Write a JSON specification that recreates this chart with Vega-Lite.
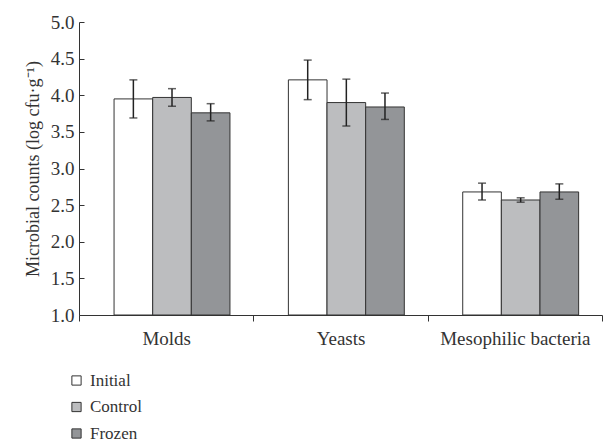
{
  "$schema": "https://vega.github.io/schema/vega-lite/v6.json",
  "width": 523,
  "height": 293,
  "autosize": {"type": "none"},
  "padding": {"left": 79, "top": 22, "right": 4, "bottom": 129},
  "background": "white",
  "config": {
    "view": {"stroke": null},
    "font": "Liberation Serif",
    "axis": {"grid": false, "domainColor": "#333", "tickColor": "#333", "labelColor": "#333", "titleColor": "#333", "labelFont": "Liberation Serif", "titleFont": "Liberation Serif", "labelFontSize": 19, "titleFontSize": 18, "titleFontWeight": "normal", "labelOverlap": false},
    "legend": {"labelFont": "Liberation Serif", "labelFontSize": 17, "labelColor": "#333"}
  },
  "data": {
    "values": [
      {"category": "Molds", "group": "Initial", "mean": 3.95, "lo": 3.69, "hi": 4.21},
      {"category": "Molds", "group": "Control", "mean": 3.97, "lo": 3.85, "hi": 4.09},
      {"category": "Molds", "group": "Frozen", "mean": 3.76, "lo": 3.65, "hi": 3.885},
      {"category": "Yeasts", "group": "Initial", "mean": 4.21, "lo": 3.94, "hi": 4.48},
      {"category": "Yeasts", "group": "Control", "mean": 3.9, "lo": 3.58, "hi": 4.22},
      {"category": "Yeasts", "group": "Frozen", "mean": 3.84, "lo": 3.67, "hi": 4.03},
      {"category": "Mesophilic bacteria", "group": "Initial", "mean": 2.68, "lo": 2.57, "hi": 2.8},
      {"category": "Mesophilic bacteria", "group": "Control", "mean": 2.57, "lo": 2.54, "hi": 2.6},
      {"category": "Mesophilic bacteria", "group": "Frozen", "mean": 2.68, "lo": 2.58, "hi": 2.79}
    ]
  },
  "encoding": {
    "x": {
      "field": "category", "type": "nominal", "sort": ["Molds", "Yeasts", "Mesophilic bacteria"],
      "scale": {"paddingInner": 0, "paddingOuter": 0},
      "axis": {"title": null, "labelAngle": 0, "tickBand": "extent", "tickSize": 6, "labelPadding": 8, "domainWidth": 1, "labelFont": "Liberation Serif", "labelFontSize": 19, "labelOverlap": false}
    },
    "xOffset": {
      "field": "group", "type": "nominal", "sort": ["Initial", "Control", "Frozen"],
      "scale": {"paddingInner": 0, "paddingOuter": 0.756, "align": 0.6}
    }
  },
  "layer": [
    {
      "mark": {"type": "bar", "stroke": "#333", "strokeWidth": 1},
      "encoding": {
        "y": {
          "field": "mean", "type": "quantitative",
          "scale": {"domain": [1, 5], "zero": false, "nice": false},
          "axis": {"title": "Microbial counts (log cfu·g⁻¹)", "values": [1, 1.5, 2, 2.5, 3, 3.5, 4, 4.5, 5], "format": ".1f", "tickSize": -5, "labelPadding": 10, "titlePadding": 8, "labelOverlap": false, "labelFont": "Liberation Serif", "labelFontSize": 19, "titleFont": "Liberation Serif", "titleFontSize": 18, "titleFontWeight": "normal"}
        },
        "y2": {"datum": 1},
        "fill": {
          "field": "group", "type": "nominal", "sort": ["Initial", "Control", "Frozen"],
          "scale": {"domain": ["Initial", "Control", "Frozen"], "range": ["#ffffff", "#bcbdbf", "#939598"]},
          "legend": {"title": null, "orient": "none", "legendX": -11, "legendY": 350, "symbolType": "square", "symbolSize": 85, "symbolStrokeColor": "#333", "symbolStrokeWidth": 1, "rowPadding": 8.5, "labelOffset": 5, "padding": 0, "labelFont": "Liberation Serif", "labelFontSize": 17, "labelColor": "#333"}
        }
      }
    },
    {
      "mark": {"type": "rule", "color": "#222", "strokeWidth": 1.5},
      "encoding": {
        "y": {"field": "lo", "type": "quantitative",
          "axis": {"title": "Microbial counts (log cfu·g⁻¹)", "values": [1, 1.5, 2, 2.5, 3, 3.5, 4, 4.5, 5], "format": ".1f", "tickSize": -5, "labelPadding": 10, "titlePadding": 8, "labelOverlap": false, "labelFont": "Liberation Serif", "labelFontSize": 19, "titleFont": "Liberation Serif", "titleFontSize": 18, "titleFontWeight": "normal"}},
        "y2": {"field": "hi"}
      }
    },
    {
      "mark": {"type": "tick", "color": "#222", "thickness": 1.5, "size": 8, "orient": "horizontal"},
      "encoding": {"y": {"field": "lo", "type": "quantitative",
        "axis": {"title": "Microbial counts (log cfu·g⁻¹)", "values": [1, 1.5, 2, 2.5, 3, 3.5, 4, 4.5, 5], "format": ".1f", "tickSize": -5, "labelPadding": 10, "titlePadding": 8, "labelOverlap": false, "labelFont": "Liberation Serif", "labelFontSize": 19, "titleFont": "Liberation Serif", "titleFontSize": 18, "titleFontWeight": "normal"}}}
    },
    {
      "mark": {"type": "tick", "color": "#222", "thickness": 1.5, "size": 8, "orient": "horizontal"},
      "encoding": {"y": {"field": "hi", "type": "quantitative",
        "axis": {"title": "Microbial counts (log cfu·g⁻¹)", "values": [1, 1.5, 2, 2.5, 3, 3.5, 4, 4.5, 5], "format": ".1f", "tickSize": -5, "labelPadding": 10, "titlePadding": 8, "labelOverlap": false, "labelFont": "Liberation Serif", "labelFontSize": 19, "titleFont": "Liberation Serif", "titleFontSize": 18, "titleFontWeight": "normal"}}}
    }
  ]
}
